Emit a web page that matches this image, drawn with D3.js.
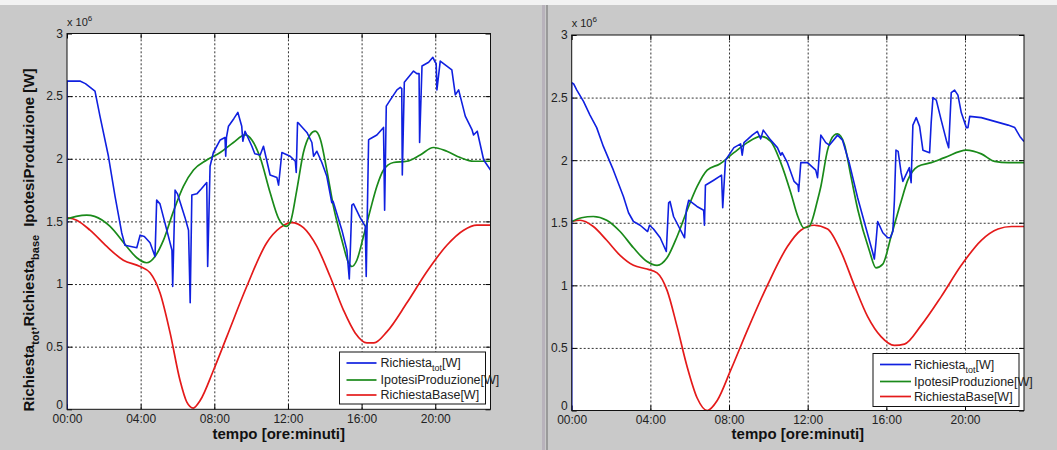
<!DOCTYPE html>
<html>
<head>
<meta charset="utf-8">
<script src="https://cdn.jsdelivr.net/npm/d3@7"></script>
<style>
  html, body { margin: 0; padding: 0; background: #c9c9c9; }
  svg { display: block; }
</style>
</head>
<body>
<svg id="chart"></svg>
<script>
// ---- data (hour of day, value in 10^6 W) ----
const hourTicks = [0, 4, 8, 12, 16, 20]
const valueTicks = [0, 0.5, 1, 1.5, 2, 2.5, 3]

const leftTot = [[0,0],[0,2.62],[0.7,2.62],[1.0,2.6],[1.52,2.54],[1.79,2.34],[2.25,2.02],[2.61,1.7],[2.97,1.41],[3.15,1.31],[3.79,1.29],[3.97,1.39],[4.2,1.38],[4.51,1.33],[4.78,1.22],[4.87,1.67],[5.05,1.64],[5.42,1.43],[5.7,1.27],[5.74,0.98],[5.87,1.75],[6.0,1.72],[6.41,1.53],[6.6,1.43],[6.69,0.85],[6.78,1.71],[7.05,1.72],[7.3,1.76],[7.59,1.81],[7.64,1.14],[7.77,1.94],[7.95,2.05],[8.32,2.15],[8.58,2.17],[8.62,2.02],[8.66,2.17],[8.77,2.26],[9.06,2.32],[9.28,2.37],[9.49,2.26],[9.55,2.14],[9.67,2.22],[10.04,2.1],[10.2,2.04],[10.49,2.03],[10.67,2.1],[11.03,1.87],[11.4,1.85],[11.49,1.79],[11.67,2.05],[12.12,2.02],[12.4,1.98],[12.45,1.89],[12.52,2.29],[12.6,2.28],[13.03,2.21],[13.3,2.13],[13.39,2.02],[13.57,2.06],[13.84,1.97],[14.11,1.86],[14.38,1.65],[14.45,1.66],[14.93,1.43],[15.2,1.27],[15.33,1.04],[15.38,1.24],[15.47,1.63],[15.56,1.64],[15.92,1.53],[16.2,1.46],[16.25,1.06],[16.38,2.15],[16.47,2.16],[16.83,2.19],[17.19,2.25],[17.25,1.59],[17.34,2.42],[17.56,2.47],[17.92,2.55],[18.1,2.57],[18.18,2.56],[18.21,1.87],[18.32,2.61],[18.82,2.7],[19.0,2.68],[19.12,2.68],[19.15,2.13],[19.28,2.74],[19.64,2.77],[19.87,2.81],[20.0,2.77],[20.05,2.76],[20.09,2.55],[20.27,2.78],[20.63,2.74],[20.9,2.71],[21.09,2.51],[21.27,2.55],[21.63,2.34],[22.0,2.23],[22.08,2.19],[22.28,2.22],[22.63,1.99],[23.0,1.91]]
const leftProd = [[0,1.52],[0.5,1.54],[1.07,1.55],[1.5,1.54],[2.34,1.46],[3.24,1.3],[3.79,1.21],[4.33,1.17],[4.78,1.22],[5.24,1.35],[5.78,1.58],[6.32,1.78],[6.87,1.91],[7.59,1.99],[8.32,2.05],[9.04,2.13],[9.67,2.19],[10.04,2.15],[10.49,2.01],[11.03,1.73],[11.5,1.52],[11.9,1.46],[12.12,1.49],[12.48,1.75],[12.84,2.05],[13.2,2.19],[13.48,2.22],[13.75,2.16],[14.11,1.91],[14.47,1.62],[14.93,1.35],[15.29,1.17],[15.47,1.14],[15.74,1.19],[16.1,1.38],[16.47,1.59],[16.83,1.78],[17.19,1.91],[17.73,1.97],[18.45,1.98],[19.18,2.03],[19.9,2.09],[20.63,2.06],[21.36,2.01],[22.08,1.98],[23,1.98]]
const leftBase = [[0,1.53],[0.53,1.51],[1.25,1.43],[2.16,1.3],[3.06,1.19],[3.97,1.14],[4.51,1.09],[5.05,0.93],[5.6,0.61],[6.14,0.23],[6.5,0.06],[6.86,0.01],[7.23,0.07],[7.95,0.31],[8.68,0.58],[9.76,0.98],[10.85,1.33],[11.58,1.45],[12.21,1.49],[12.84,1.45],[13.57,1.3],[14.29,1.06],[15.02,0.79],[15.65,0.61],[16.29,0.53],[16.67,0.53],[17.38,0.62],[18.46,0.85],[19.55,1.1],[20.63,1.31],[21.54,1.43],[22.26,1.47],[23,1.47]]

const rightTot = [[0,0],[0,2.62],[0.1,2.61],[0.26,2.56],[0.6,2.47],[0.93,2.36],[1.27,2.26],[1.61,2.11],[2.12,1.92],[2.63,1.71],[2.89,1.58],[3.14,1.51],[3.48,1.48],[3.86,1.43],[3.96,1.48],[4.16,1.45],[4.5,1.38],[4.81,1.27],[4.93,1.66],[5.0,1.67],[5.18,1.55],[5.44,1.47],[5.74,1.38],[5.83,1.6],[5.95,1.68],[6.37,1.63],[6.71,1.6],[6.75,1.48],[6.8,1.8],[7.22,1.84],[7.62,1.88],[7.68,1.62],[7.82,2.0],[8.25,2.1],[8.59,2.13],[8.67,2.04],[8.76,2.14],[9.18,2.2],[9.44,2.23],[9.61,2.17],[9.74,2.24],[10.12,2.16],[10.46,2.1],[10.63,2.04],[10.7,2.06],[10.97,1.98],[11.31,1.83],[11.51,1.8],[11.54,1.75],[11.65,1.98],[11.99,1.98],[12.41,1.92],[12.5,1.86],[12.67,2.2],[12.92,2.14],[13.1,2.12],[13.52,2.2],[13.77,2.16],[14.11,1.98],[14.54,1.7],[14.96,1.46],[15.31,1.26],[15.39,1.21],[15.47,1.34],[15.56,1.51],[15.82,1.42],[16.07,1.38],[16.2,1.38],[16.33,1.43],[16.41,1.68],[16.49,2.08],[16.6,2.07],[16.75,1.9],[16.84,1.83],[17.17,1.94],[17.26,1.82],[17.35,2.28],[17.52,2.34],[17.69,2.27],[17.86,2.08],[18.2,2.06],[18.28,2.3],[18.37,2.5],[18.54,2.48],[18.79,2.32],[19.05,2.16],[19.17,2.1],[19.3,2.54],[19.47,2.56],[19.64,2.52],[19.81,2.38],[20.07,2.26],[20.15,2.26],[20.24,2.35],[20.83,2.34],[21.51,2.31],[22.19,2.28],[22.53,2.26],[22.79,2.19],[23,2.15]]
const rightProd = [[0,1.51],[0.5,1.54],[1.1,1.55],[1.78,1.52],[2.46,1.43],[3.14,1.3],[3.83,1.19],[4.34,1.16],[4.85,1.22],[5.36,1.39],[5.87,1.6],[6.38,1.79],[6.89,1.92],[7.53,1.97],[8.25,2.06],[8.93,2.14],[9.61,2.19],[10.12,2.15],[10.63,1.98],[11.14,1.74],[11.5,1.55],[11.8,1.46],[12.07,1.47],[12.5,1.68],[12.67,1.79],[13.01,2.08],[13.35,2.2],[13.52,2.21],[13.86,2.13],[14.2,1.87],[14.54,1.61],[15.13,1.28],[15.47,1.14],[15.82,1.17],[16.24,1.39],[16.75,1.67],[17.09,1.84],[17.6,1.95],[18.28,1.98],[18.96,2.02],[20.07,2.08],[20.83,2.05],[21.51,1.99],[22.19,1.98],[23,1.98]]
const rightBase = [[0,1.51],[0.43,1.52],[1.1,1.47],[1.78,1.36],[2.46,1.24],[3.14,1.16],[3.83,1.13],[4.34,1.1],[4.85,0.96],[5.36,0.67],[5.87,0.35],[6.38,0.1],[6.89,0.0],[7.4,0.08],[8.08,0.32],[8.93,0.64],[9.95,1.0],[10.97,1.31],[11.65,1.44],[12.33,1.48],[13.01,1.45],[13.69,1.27],[14.37,1.0],[15.05,0.75],[15.73,0.59],[16.41,0.52],[16.92,0.53],[17.77,0.68],[18.79,0.91],[19.81,1.16],[20.83,1.36],[21.68,1.45],[22.36,1.47],[23,1.47]]

const seriesColors = ['#1020e0', '#1a8a1a', '#e41a1a']

const width = 1057
const height = 450
const tickFont = "'Liberation Sans Narrow', 'Liberation Sans', Arial, sans-serif"
const labelFont = "'Liberation Sans', Arial, sans-serif"

const svg = d3.select('#chart').attr('width', width).attr('height', height)

svg.append('rect').attr('width', width).attr('height', height).attr('fill', '#c9c9c9')
svg.append('rect').attr('width', width).attr('height', 5).attr('fill', '#f2f2f2')
// splitter between the two windows
svg.append('rect').attr('x', 542).attr('y', 5).attr('width', 3).attr('height', height - 5).attr('fill', '#b8b2bb')
svg.append('rect').attr('x', 546).attr('y', 5).attr('width', 2).attr('height', height - 5).attr('fill', '#9a9a9a')

function drawPanel(opts) {
    const { left, right, top, bottom, tot, prod, base, legend, ylabel, id } = opts

    const x = d3.scaleLinear().domain([0, 23]).range([left, right])
    const y = d3.scaleLinear().domain([0, 3]).range([bottom, top])

    const g = svg.append('g')

    g.append('rect')
        .attr('x', left).attr('y', top)
        .attr('width', right - left).attr('height', bottom - top)
        .attr('fill', 'white')

    g.append('clipPath').attr('id', 'clip' + id)
        .append('rect')
        .attr('x', left).attr('y', top - 1)
        .attr('width', right - left).attr('height', bottom - top + 2)

    // dotted grid
    g.append('g')
        .attr('transform', 'translate(0,' + bottom + ')')
        .call(d3.axisBottom(x).tickValues(hourTicks.slice(1)).tickSize(-(bottom - top)).tickFormat(''))
        .call(s => s.select('.domain').remove())
        .selectAll('line').attr('stroke', '#333').attr('stroke-dasharray', '2,2')

    g.append('g')
        .attr('transform', 'translate(' + left + ',0)')
        .call(d3.axisLeft(y).tickValues(valueTicks.slice(1, -1)).tickSize(-(right - left)).tickFormat(''))
        .call(s => s.select('.domain').remove())
        .selectAll('line').attr('stroke', '#333').attr('stroke-dasharray', '2,2')

    // inner tick marks on all four sides
    g.append('g')
        .attr('transform', 'translate(0,' + bottom + ')')
        .call(d3.axisBottom(x).tickValues(hourTicks).tickSize(-5).tickFormat(''))
        .call(s => s.select('.domain').remove())
    g.append('g')
        .attr('transform', 'translate(0,' + top + ')')
        .call(d3.axisTop(x).tickValues(hourTicks).tickSize(-5).tickFormat(''))
        .call(s => s.select('.domain').remove())
    g.append('g')
        .attr('transform', 'translate(' + left + ',0)')
        .call(d3.axisLeft(y).tickValues(valueTicks).tickSize(-5).tickFormat(''))
        .call(s => s.select('.domain').remove())
    g.append('g')
        .attr('transform', 'translate(' + right + ',0)')
        .call(d3.axisRight(y).tickValues(valueTicks).tickSize(-5).tickFormat(''))
        .call(s => s.select('.domain').remove())

    // tick labels
    const xAxis = g.append('g')
        .attr('transform', 'translate(0,' + bottom + ')')
        .call(d3.axisBottom(x).tickValues(hourTicks).tickSize(0).tickPadding(5)
            .tickFormat(d => String(d).padStart(2, '0') + ':00'))
    xAxis.select('.domain').remove()
    xAxis.selectAll('text').attr('font-size', 12).attr('font-family', tickFont).attr('fill', '#222')

    const yAxis = g.append('g')
        .attr('transform', 'translate(' + left + ',0)')
        .call(d3.axisLeft(y).tickValues(valueTicks).tickSize(0).tickPadding(4).tickFormat(d => String(d)))
    yAxis.select('.domain').remove()
    yAxis.selectAll('text').attr('font-size', 12).attr('font-family', tickFont).attr('fill', '#222')
        .attr('dy', d => d === 0 ? '-0.1em' : '0.32em')

    // exponent
    const ex = g.append('text')
        .attr('x', left).attr('y', top - 8)
        .attr('font-size', 11).attr('font-family', tickFont).attr('fill', '#222')
    ex.append('tspan').text('x 10')
    ex.append('tspan').attr('dy', -5).attr('font-size', 8).text('6')

    // lines
    const line = d3.line().x(d => x(d[0])).y(d => y(d[1]))
    const smooth = d3.line().x(d => x(d[0])).y(d => y(d[1])).curve(d3.curveMonotoneX)
    const plot = g.append('g').attr('clip-path', 'url(#clip' + id + ')')

    plot.append('path').datum(base).attr('d', smooth)
        .attr('fill', 'none').attr('stroke', seriesColors[2]).attr('stroke-width', 1.7)
    plot.append('path').datum(prod).attr('d', smooth)
        .attr('fill', 'none').attr('stroke', seriesColors[1]).attr('stroke-width', 1.7)
    plot.append('path').datum(tot).attr('d', line)
        .attr('fill', 'none').attr('stroke', seriesColors[0]).attr('stroke-width', 1.6)
        .attr('stroke-linejoin', 'round')

    // axes box
    g.append('rect')
        .attr('x', left).attr('y', top)
        .attr('width', right - left).attr('height', bottom - top)
        .attr('fill', 'none').attr('stroke', '#111').attr('stroke-width', 1)

    // legend
    const lg = g.append('g').attr('transform', 'translate(' + legend.x + ',' + legend.y + ')')
    lg.append('rect')
        .attr('width', legend.w).attr('height', legend.h)
        .attr('fill', 'white').attr('stroke', '#111').attr('stroke-width', 1)
    const rows = [
        { label: 'Richiesta', sub: 'tot', tail: '[W]', dy: legend.rows[0] },
        { label: 'IpotesiProduzione[W]', dy: legend.rows[1] },
        { label: 'RichiestaBase[W]', dy: legend.rows[2] },
    ]
    rows.forEach((r, i) => {
        lg.append('line')
            .attr('x1', 7).attr('x2', 7 + legend.lineLen)
            .attr('y1', r.dy).attr('y2', r.dy)
            .attr('stroke', seriesColors[i]).attr('stroke-width', 1.7)
        const t = lg.append('text')
            .attr('x', legend.textX).attr('y', r.dy + 4)
            .attr('font-size', 12.5).attr('font-family', tickFont).attr('fill', '#222')
        t.append('tspan').text(r.label)
        if (r.sub) {
            t.append('tspan').attr('dy', 4).attr('font-size', 9).text(r.sub)
            t.append('tspan').attr('dy', -4).text(r.tail)
        }
    })

    // x label
    g.append('text')
        .attr('x', (left + right) / 2).attr('y', 439)
        .attr('text-anchor', 'middle')
        .attr('font-size', 15).attr('font-weight', 'bold')
        .attr('font-family', labelFont).attr('fill', '#111')
        .text('tempo [ore:minuti]')

    if (ylabel) {
        const yl = g.append('text')
            .attr('transform', 'translate(' + ylabel.x + ',' + ylabel.y + ') rotate(-90)')
            .attr('text-anchor', 'middle')
            .attr('font-size', 15).attr('font-weight', 'bold')
            .attr('font-family', labelFont).attr('fill', '#111')
        yl.append('tspan').text('Richiesta')
        yl.append('tspan').attr('dy', 5).attr('font-size', 11).text('tot')
        yl.append('tspan').attr('dy', -5).text(',Richiesta')
        yl.append('tspan').attr('dy', 5).attr('font-size', 11).text('base')
        yl.append('tspan').attr('dy', -5).attr('dx', 8).text('IpotesiProduzione [W]')
    }
}

drawPanel({
    id: 'L', left: 67, right: 490.5, top: 33.5, bottom: 409.3,
    tot: leftTot, prod: leftProd, base: leftBase,
    legend: { x: 339.5, y: 352, w: 146, h: 52, rows: [11, 28, 43], lineLen: 30, textX: 41 },
    ylabel: { x: 34, y: 240 },
})

drawPanel({
    id: 'R', left: 571.7, right: 1024, top: 35, bottom: 410.5,
    tot: rightTot, prod: rightProd, base: rightBase,
    legend: { x: 873, y: 353.5, w: 146, h: 53, rows: [11, 28, 43], lineLen: 31, textX: 41 },
    ylabel: null,
})
</script>
</body>
</html>
